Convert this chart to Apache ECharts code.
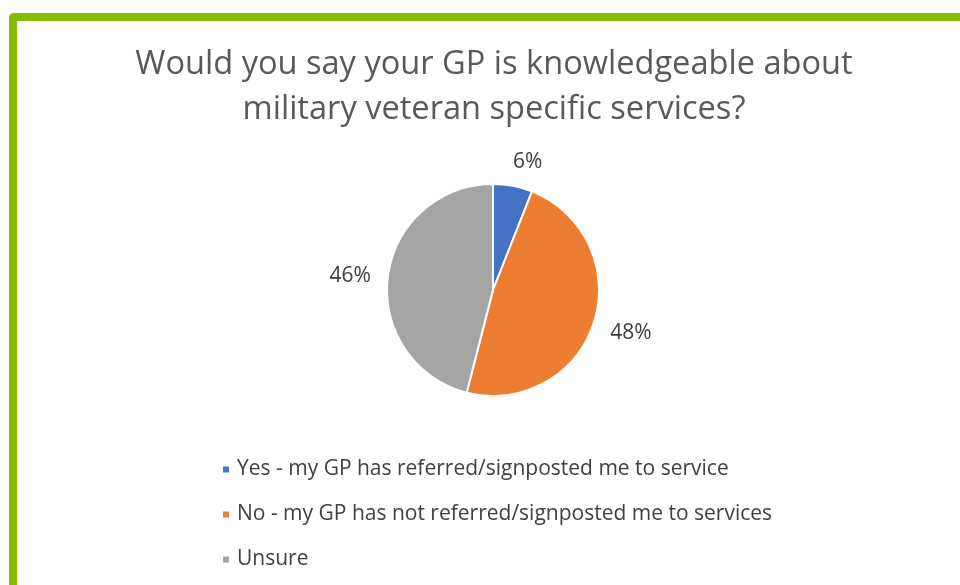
<!DOCTYPE html>
<html>
<head>
<meta charset="utf-8">
<script src="https://cdn.jsdelivr.net/npm/echarts@6/dist/echarts.min.js"></script>
<style>
  html, body { margin: 0; padding: 0; background: #fff; }
  #frame {
    position: absolute; left: 9px; top: 13px; width: 1000px; height: 640px;
    border-left: 8px solid #84bd00; border-top: 8px solid #84bd00;
    border-top-left-radius: 5px; box-sizing: border-box;
  }
  #chart { position: absolute; left: 0; top: 0; width: 960px; height: 585px; }
</style>
</head>
<body>
<div id="frame"></div>
<div id="chart"></div>
<script>
const titleLines = ['Would you say your GP is knowledgeable about', 'military veteran specific services?'];
const categories = [
  'Yes - my GP has referred/signposted me to service',
  'No - my GP has not referred/signposted me to services',
  'Unsure'
];
const shares = [6, 48, 46];
const colors = ['#4472c4', '#ed7d31', '#a5a5a5'];
// small nudges so each percentage sits clear of its slice
const labelNudges = [[-7, -12], [0, 7], [0, 1]];

const fontFamily = '"Open Sans", "Noto Sans", sans-serif';
const chart = echarts.init(document.getElementById('chart'));
chart.setOption({
  animation: false,
  title: {
    text: titleLines.join('\n'),
    left: 489, textAlign: 'center', top: 37,
    textStyle: { fontFamily, fontSize: 32.6, fontWeight: 'normal', color: '#595959', lineHeight: 45 }
  },
  legend: {
    orient: 'vertical', left: 216, top: 454, itemGap: 24,
    itemWidth: 8, itemHeight: 8, icon: 'rect',
    textStyle: { fontFamily, fontSize: 21, color: '#404040', padding: [0, 0, 0, 2] },
    data: categories
  },
  series: [{
    type: 'pie',
    center: [493, 290], radius: 106,
    startAngle: 90, clockwise: true,
    itemStyle: { borderColor: '#fff', borderWidth: 2 },
    label: {
      show: true, position: 'outside', formatter: '{c}%',
      fontFamily, fontSize: 21, color: '#404040'
    },
    labelLine: { show: false, length: 12, length2: 0 },
    labelLayout: (p) => ({ dx: labelNudges[p.dataIndex][0], dy: labelNudges[p.dataIndex][1] }),
    data: categories.map((name, i) => ({ name, value: shares[i], itemStyle: { color: colors[i] } }))
  }]
});
</script>
</body>
</html>
